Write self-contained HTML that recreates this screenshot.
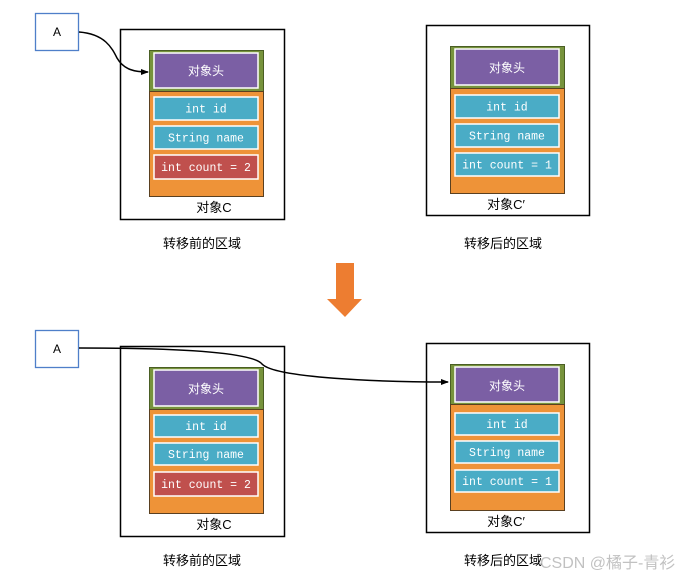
<!DOCTYPE html>
<html><head><meta charset="utf-8"><style>
html,body{margin:0;padding:0;background:#fff}
svg{display:block}
text{font-family:"Liberation Sans","Noto Sans CJK SC",sans-serif}
.m{font-family:"Liberation Mono","DejaVu Sans Mono",monospace;font-size:11.5px;fill:#fff}
.h{font-size:12px;fill:#fff}
.l{font-size:13px;fill:#000}
</style></head><body>
<svg width="696" height="581" viewBox="0 0 696 581" xmlns="http://www.w3.org/2000/svg">
<defs><marker id="ar" markerWidth="8" markerHeight="8" refX="7" refY="4" orient="auto" markerUnits="userSpaceOnUse"><path d="M0,1 L8,4 L0,7 z" fill="#000"/></marker></defs>

<!-- TOP -->
<rect x="35.5" y="13.5" width="43" height="37" fill="#fff" stroke="#4f7fc9" stroke-width="1.3"/>
<text x="57" y="36" text-anchor="middle" font-size="12">A</text>
<rect x="120.5" y="29.5" width="164" height="190" fill="#fff" stroke="#000" stroke-width="1.5"/>
<rect x="149.5" y="50.5" width="114" height="41" fill="#77933c" stroke="#4a5e24"/>
<rect x="154" y="53" width="104" height="35" fill="#7b5fa4" stroke="#fff" stroke-width="1.5"/>
<text x="206" y="75" class="h" text-anchor="middle">对象头</text>
<rect x="149.5" y="91.5" width="114" height="105" fill="#ee9338" stroke="#5a4020"/>
<rect x="154" y="97" width="104" height="23" fill="#4aacc6" stroke="#fff" stroke-width="1.5"/>
<text x="206" y="112.5" class="m" text-anchor="middle">int id</text>
<rect x="154" y="126" width="104" height="23" fill="#4aacc6" stroke="#fff" stroke-width="1.5"/>
<text x="206" y="141.5" class="m" text-anchor="middle">String name</text>
<rect x="154" y="155" width="104" height="24" fill="#c0504d" stroke="#fff" stroke-width="1.5"/>
<text x="206" y="171" class="m" text-anchor="middle">int count = 2</text>
<text x="214" y="212" class="l" text-anchor="middle">对象C</text>
<text x="202" y="248" class="l" text-anchor="middle">转移前的区域</text>
<path d="M79,32 C105,34 112,48 117,58 C124,70 135,72 148,72" fill="none" stroke="#000" stroke-width="1.5" marker-end="url(#ar)"/>

<rect x="426.5" y="25.5" width="163" height="190" fill="#fff" stroke="#000" stroke-width="1.5"/>
<rect x="450.5" y="46.5" width="114" height="42" fill="#77933c" stroke="#4a5e24"/>
<rect x="455" y="49" width="104" height="36" fill="#7b5fa4" stroke="#fff" stroke-width="1.5"/>
<text x="507" y="72" class="h" text-anchor="middle">对象头</text>
<rect x="450.5" y="88.5" width="114" height="105" fill="#ee9338" stroke="#5a4020"/>
<rect x="455" y="95" width="104" height="23" fill="#4aacc6" stroke="#fff" stroke-width="1.5"/>
<text x="507" y="110.5" class="m" text-anchor="middle">int id</text>
<rect x="455" y="124" width="104" height="23" fill="#4aacc6" stroke="#fff" stroke-width="1.5"/>
<text x="507" y="139.5" class="m" text-anchor="middle">String name</text>
<rect x="455" y="153" width="104" height="23" fill="#4aacc6" stroke="#fff" stroke-width="1.5"/>
<text x="507" y="168.5" class="m" text-anchor="middle">int count = 1</text>
<text x="506" y="209" class="l" text-anchor="middle">对象C′</text>
<text x="503" y="248" class="l" text-anchor="middle">转移后的区域</text>

<!-- ARROW -->
<path d="M336,263 H354 V299 H362 L345,317 L327,299 H336 Z" fill="#ed7d31"/>

<!-- BOTTOM -->
<rect x="35.5" y="330.5" width="43" height="37" fill="#fff" stroke="#4f7fc9" stroke-width="1.3"/>
<text x="57" y="353" text-anchor="middle" font-size="12">A</text>
<rect x="120.5" y="346.5" width="164" height="190" fill="#fff" stroke="#000" stroke-width="1.5"/>
<rect x="149.5" y="367.5" width="114" height="42" fill="#77933c" stroke="#4a5e24"/>
<rect x="154" y="370" width="104" height="36" fill="#7b5fa4" stroke="#fff" stroke-width="1.5"/>
<text x="206" y="393" class="h" text-anchor="middle">对象头</text>
<rect x="149.5" y="409.5" width="114" height="104" fill="#ee9338" stroke="#5a4020"/>
<rect x="154" y="415" width="104" height="22" fill="#4aacc6" stroke="#fff" stroke-width="1.5"/>
<text x="206" y="430" class="m" text-anchor="middle">int id</text>
<rect x="154" y="443" width="104" height="22" fill="#4aacc6" stroke="#fff" stroke-width="1.5"/>
<text x="206" y="458" class="m" text-anchor="middle">String name</text>
<rect x="154" y="472" width="104" height="24" fill="#c0504d" stroke="#fff" stroke-width="1.5"/>
<text x="206" y="488" class="m" text-anchor="middle">int count = 2</text>
<text x="214" y="529" class="l" text-anchor="middle">对象C</text>
<text x="202" y="565" class="l" text-anchor="middle">转移前的区域</text>

<rect x="426.5" y="343.5" width="163" height="189" fill="#fff" stroke="#000" stroke-width="1.5"/>
<rect x="450.5" y="364.5" width="114" height="40" fill="#77933c" stroke="#4a5e24"/>
<rect x="455" y="367" width="104" height="35" fill="#7b5fa4" stroke="#fff" stroke-width="1.5"/>
<text x="507" y="390" class="h" text-anchor="middle">对象头</text>
<rect x="450.5" y="404.5" width="114" height="106" fill="#ee9338" stroke="#5a4020"/>
<rect x="455" y="413" width="104" height="22" fill="#4aacc6" stroke="#fff" stroke-width="1.5"/>
<text x="507" y="428" class="m" text-anchor="middle">int id</text>
<rect x="455" y="441" width="104" height="22" fill="#4aacc6" stroke="#fff" stroke-width="1.5"/>
<text x="507" y="456" class="m" text-anchor="middle">String name</text>
<rect x="455" y="470" width="104" height="22" fill="#4aacc6" stroke="#fff" stroke-width="1.5"/>
<text x="507" y="485" class="m" text-anchor="middle">int count = 1</text>
<text x="506" y="526" class="l" text-anchor="middle">对象C′</text>
<text x="503" y="565" class="l" text-anchor="middle">转移后的区域</text>
<text x="540" y="568" font-size="16" fill="#999" opacity="0.6">CSDN @橘子-青衫</text>

<path d="M79,348 C150,348 250,350 262,364 C275,378 380,382 448,382" fill="none" stroke="#000" stroke-width="1.5" marker-end="url(#ar)"/>
</svg>
</body></html>
